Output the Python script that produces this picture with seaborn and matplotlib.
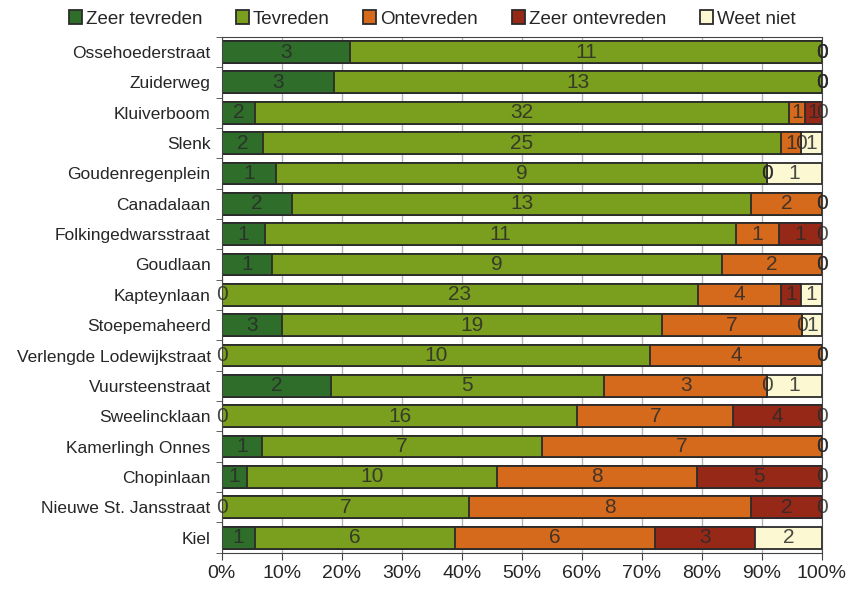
import seaborn as sns
import matplotlib.pyplot as plt
import pandas as pd
import numpy as np

straten = ['Ossehoederstraat', 'Zuiderweg', 'Kluiverboom', 'Slenk', 'Goudenregenplein',
           'Canadalaan', 'Folkingedwarsstraat', 'Goudlaan', 'Kapteynlaan', 'Stoepemaheerd',
           'Verlengde Lodewijkstraat', 'Vuursteenstraat', 'Sweelincklaan', 'Kamerlingh Onnes',
           'Chopinlaan', 'Nieuwe St. Jansstraat', 'Kiel']
zeer_tevreden = [3, 3, 2, 2, 1, 2, 1, 1, 0, 3, 0, 2, 0, 1, 1, 0, 1]
tevreden = [11, 13, 32, 25, 9, 13, 11, 9, 23, 19, 10, 5, 16, 7, 10, 7, 6]
ontevreden = [0, 0, 1, 1, 0, 2, 1, 2, 4, 7, 4, 3, 7, 7, 8, 8, 6]
zeer_ontevreden = [0, 0, 1, 0, 0, 0, 1, 0, 1, 0, 0, 0, 4, 0, 5, 2, 3]
weet_niet = [0, 0, 0, 1, 1, 0, 0, 0, 1, 1, 0, 1, 0, 0, 0, 0, 2]

series = ['Zeer tevreden', 'Tevreden', 'Ontevreden', 'Zeer ontevreden', 'Weet niet']
kleuren = ['#2f6d2b', '#7a9e1e', '#d66a1c', '#962817', '#fbf8d2']

df = pd.DataFrame({'straat': straten, 'Zeer tevreden': zeer_tevreden, 'Tevreden': tevreden,
                   'Ontevreden': ontevreden, 'Zeer ontevreden': zeer_ontevreden,
                   'Weet niet': weet_niet})
totaal = df[series].sum(axis=1)
pct = df[series].div(totaal, axis=0) * 100
cum = pct.cumsum(axis=1)

sns.set_style('white')
plt.rcParams['font.family'] = ['Liberation Sans', 'DejaVu Sans']
fig, ax = plt.subplots(figsize=(8.5, 5.95), dpi=100)
fig.subplots_adjust(left=0.261, right=0.967, top=0.938, bottom=0.071)

# stacked: draw cumulative totals back to front
for i in range(len(series) - 1, -1, -1):
    sns.barplot(x=cum[series[i]], y=df['straat'], color=kleuren[i], orient='h', saturation=1,
                width=0.72, edgecolor='#2b2b2b', linewidth=1.3, ax=ax, label=series[i])

# labels in the middle of every segment
for i, s in enumerate(series):
    start = cum[s] - pct[s]
    for j in range(len(df)):
        ax.text(start[j] + pct[s][j] / 2, j, str(df[s][j]), ha='center', va='center',
                fontsize=15, color='#2a2a2a', alpha=0.85)

ax.set_xlim(0, 100)
ax.set_ylim(len(df) - 0.5, -0.5)
ax.set_xticks(np.arange(0, 101, 10))
ax.set_xticklabels([f'{t}%' for t in range(0, 101, 10)], fontsize=14)
ax.set_yticks(np.arange(len(df) + 1) - 0.5, minor=True)
ax.tick_params(axis='y', which='major', labelsize=12.5, length=0, pad=8)
ax.tick_params(axis='y', which='minor', length=4, left=True, color='#444444')
ax.tick_params(axis='x', length=5, bottom=True, color='#444444')
ax.set_xlabel('')
ax.set_ylabel('')
ax.grid(axis='x', color='#b5b5b5', linewidth=1)
ax.set_axisbelow(True)
for sp in ax.spines.values():
    sp.set_color('#444444')

handles, labels = ax.get_legend_handles_labels()
order = [labels.index(s) for s in series]
ax.legend([handles[k] for k in order], series, loc='lower center', bbox_to_anchor=(0.35, 1.0),
          ncol=5, frameon=False, fontsize=13.5, handlelength=0.7, handleheight=0.7,
          handletextpad=0.2, columnspacing=1.8, borderaxespad=0.1)

plt.savefig('out.png', dpi=100)
